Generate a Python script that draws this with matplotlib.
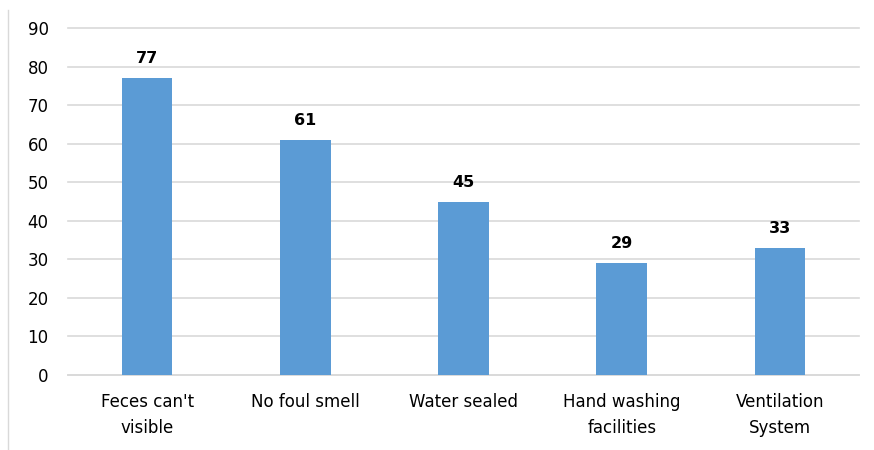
import matplotlib.pyplot as plt
from matplotlib.lines import Line2D

categories = ["Feces can't\nvisible", "No foul smell", "Water sealed",
              "Hand washing\nfacilities", "Ventilation\nSystem"]
values = [77, 61, 45, 29, 33]
y_ticks = [0, 10, 20, 30, 40, 50, 60, 70, 80, 90]

plt.rcParams['font.family'] = ['DejaVu Sans']

fig = plt.figure(figsize=(8.74, 4.5), dpi=100)
ax = fig.add_axes([68 / 874, 1 - 375 / 450, (859 - 68) / 874, (375 - 28) / 450])

x = range(len(categories))
bars = ax.bar(x, values, width=0.32, color='#5B9BD5', zorder=3)

for b, v in zip(bars, values):
    ax.annotate(str(v), (b.get_x() + b.get_width() / 2, v),
                xytext=(0, 14), textcoords='offset points',
                ha='center', va='center', fontsize=11.5, fontweight='bold',
                color='#000000')

ax.set_xlim(-0.5, len(categories) - 0.5)
ax.set_ylim(0, 90)
ax.set_yticks(y_ticks)
ax.set_xticks(list(x))
ax.set_xticklabels(categories, fontsize=12, linespacing=1.55)
ax.tick_params(axis='y', length=0, pad=14, labelsize=12)
ax.tick_params(axis='x', length=0, pad=13)

ax.grid(axis='y', color='#d9d9d9', linewidth=1.2, zorder=0)
for gl in ax.get_ygridlines():
    gl.set_clip_on(False)
for s in ['top', 'right', 'left']:
    ax.spines[s].set_visible(False)
ax.spines['bottom'].set_color('#d9d9d9')
ax.spines['bottom'].set_linewidth(1.2)

# left edge of chart frame
fig.add_artist(Line2D([8 / 874, 8 / 874], [0, 1 - 10 / 450],
                      color='#d9d9d9', linewidth=1))

fig.savefig('out.png', dpi=100)
